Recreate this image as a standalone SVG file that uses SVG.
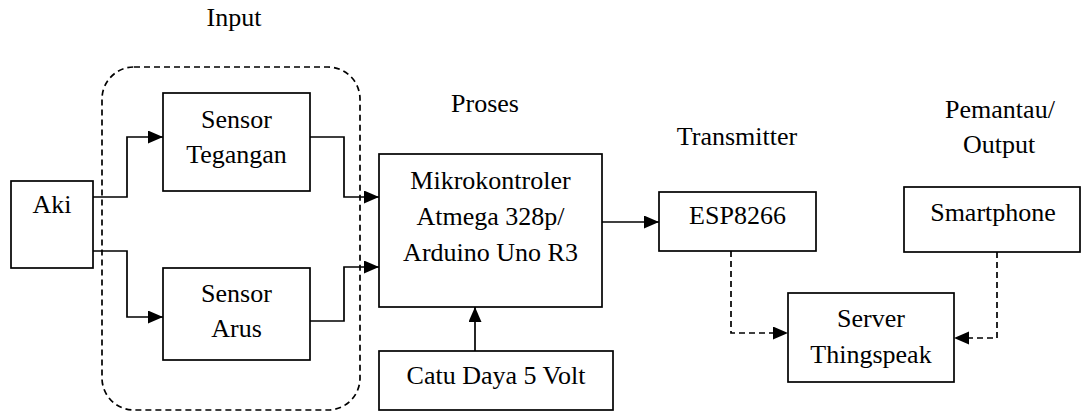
<svg xmlns="http://www.w3.org/2000/svg" width="1083" height="412" viewBox="0 0 1083 412">
<style>
.box{fill:#fff;stroke:#000;stroke-width:1.7}
.t{font-family:'Liberation Serif','Times New Roman','DejaVu Serif',serif;font-size:26px;fill:#000;text-anchor:middle}
.c{fill:none;stroke:#000;stroke-width:1.7}
.d{fill:none;stroke:#000;stroke-width:1.7;stroke-dasharray:6 4}
</style>
<defs>
<marker id="ah" markerUnits="userSpaceOnUse" markerWidth="16" markerHeight="14" refX="15" refY="6.5" orient="auto">
<path d="M0,0 L15,6.5 L0,13 Z" fill="#000"/>
</marker>
</defs>
<rect width="1083" height="412" fill="#fff"/>
<g id="input-group">
<rect x="102" y="67" width="258" height="343" rx="32" ry="32" class="d"/>
<text class="t" x="234" y="26">Input</text>
</g>
<g id="label-proses"><text class="t" x="485" y="112">Proses</text></g>
<g id="label-transmitter"><text class="t" x="737" y="145">Transmitter</text></g>
<g id="label-output"><text class="t" x="1000" y="118">Pemantau/</text><text class="t" x="999" y="153">Output</text></g>
<g id="aki"><rect class="box" x="11" y="181" width="82" height="87"/><text class="t" x="52" y="213">Aki</text></g>
<g id="sensor-tegangan"><rect class="box" x="163" y="93" width="147" height="98"/><text class="t" x="236.5" y="128">Sensor</text><text class="t" x="236.5" y="163">Tegangan</text></g>
<g id="sensor-arus"><rect class="box" x="163" y="268" width="147" height="92"/><text class="t" x="236.5" y="302">Sensor</text><text class="t" x="236.5" y="337">Arus</text></g>
<g id="mikrokontroler"><rect class="box" x="379" y="154" width="223" height="153"/><text class="t" x="490.5" y="189">Mikrokontroler</text><text class="t" x="490.5" y="225">Atmega 328p/</text><text class="t" x="490.5" y="261">Arduino Uno R3</text></g>
<g id="catu-daya"><rect class="box" x="379" y="351" width="234" height="59"/><text class="t" x="496" y="384">Catu Daya 5 Volt</text></g>
<g id="esp8266"><rect class="box" x="659" y="192" width="157" height="59"/><text class="t" x="737.5" y="224">ESP8266</text></g>
<g id="smartphone"><rect class="box" x="904" y="187" width="176" height="65"/><text class="t" x="993" y="221">Smartphone</text></g>
<g id="server"><rect class="box" x="788" y="293" width="166" height="89"/><text class="t" x="871" y="327">Server</text><text class="t" x="871" y="363">Thingspeak</text></g>
<g id="connectors">
<polyline class="c" points="93,197 127,197 127,137 163,137" marker-end="url(#ah)"/>
<polyline class="c" points="93,251 127,251 127,317 163,317" marker-end="url(#ah)"/>
<polyline class="c" points="310,137 344,137 344,197 379,197" marker-end="url(#ah)"/>
<polyline class="c" points="310,321 344,321 344,267 379,267" marker-end="url(#ah)"/>
<line class="c" x1="475" y1="351" x2="475" y2="307" marker-end="url(#ah)"/>
<line class="c" x1="602" y1="222" x2="659" y2="222" marker-end="url(#ah)"/>
<polyline class="d" points="731,251 731,333 788,333" marker-end="url(#ah)"/>
<polyline class="d" points="997,252 997,338 954,338" marker-end="url(#ah)"/>
</g>
</svg>
